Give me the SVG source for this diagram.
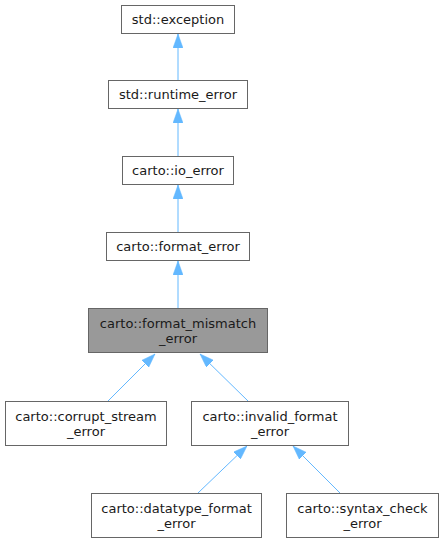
<svg xmlns="http://www.w3.org/2000/svg" width="443" height="543" viewBox="0 0 443 543">
<style>
.n rect{fill:#ffffff;stroke:#666666;stroke-width:1}
.n.h rect{fill:#999999}
.n text{font-family:"DejaVu Sans",sans-serif;font-size:13px;fill:#1a1a1a;text-anchor:middle}
.e line{stroke:#63b8ff;stroke-width:1;marker-end:url(#a)}
</style>
<defs>
<marker id="a" viewBox="0 0 14 10" refX="14" refY="5" markerWidth="14" markerHeight="10" markerUnits="userSpaceOnUse" orient="auto">
<polygon points="0,0 14,5 0,10" fill="#63b8ff" stroke="#63b8ff" stroke-width="0.5"/>
</marker>
</defs>
<rect width="443" height="543" fill="#ffffff"/>
<g id="edges" class="e">
<line x1="178" y1="80" x2="178" y2="34"/>
<line x1="178" y1="156" x2="178" y2="109"/>
<line x1="178" y1="232" x2="178" y2="185"/>
<line x1="178" y1="308" x2="178" y2="261"/>
<line x1="108" y1="401" x2="155" y2="354"/>
<line x1="248" y1="401" x2="200" y2="354"/>
<line x1="198" y1="493" x2="247" y2="446"/>
<line x1="340" y1="493" x2="293" y2="446"/>
</g>
<g id="n1" class="n"><rect x="121.5" y="5.5" width="113" height="28"/><text x="178" y="23.5">std::exception</text></g>
<g id="n2" class="n"><rect x="108.5" y="80.5" width="139" height="28"/><text x="178" y="98.5">std::runtime_error</text></g>
<g id="n3" class="n"><rect x="122.5" y="156.5" width="111" height="28"/><text x="178" y="174.5">carto::io_error</text></g>
<g id="n4" class="n"><rect x="106.5" y="232.5" width="143" height="28"/><text x="178" y="250.5">carto::format_error</text></g>
<g id="n5" class="n h"><rect x="88.5" y="308.5" width="179" height="44"/><text x="178" y="327.5">carto::format_mismatch</text><text x="178" y="342.5">_error</text></g>
<g id="n6" class="n"><rect x="5.5" y="401.5" width="161" height="44"/><text x="86" y="420.5">carto::corrupt_stream</text><text x="86" y="435.5">_error</text></g>
<g id="n7" class="n"><rect x="191.5" y="401.5" width="157" height="44"/><text x="270" y="420.5">carto::invalid_format</text><text x="270" y="435.5">_error</text></g>
<g id="n8" class="n"><rect x="91.5" y="493.5" width="170" height="44"/><text x="176.5" y="512.5">carto::datatype_format</text><text x="176.5" y="527.5">_error</text></g>
<g id="n9" class="n"><rect x="286.5" y="493.5" width="152" height="44"/><text x="362.5" y="512.5">carto::syntax_check</text><text x="362.5" y="527.5">_error</text></g>
</svg>
